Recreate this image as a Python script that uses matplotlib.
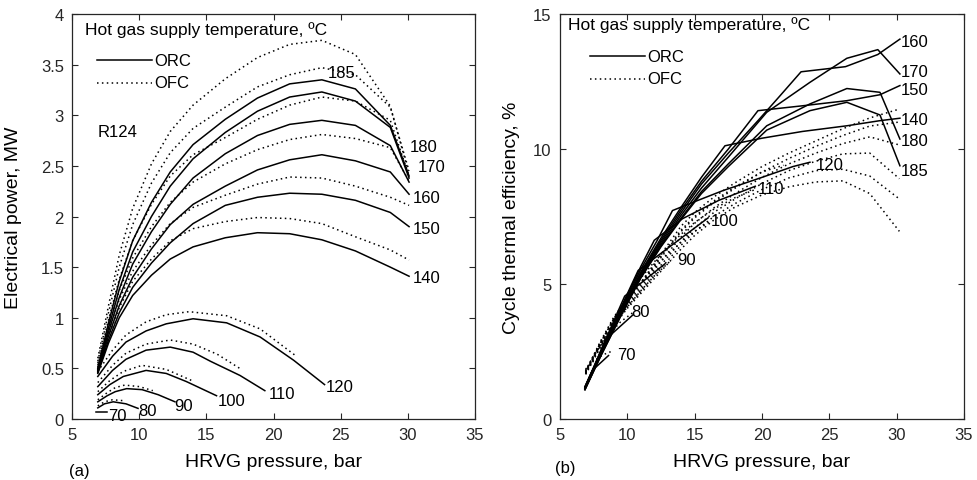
import matplotlib
matplotlib.use("Agg")
import matplotlib.pyplot as plt

plt.rcParams['font.family'] = ['Liberation Sans', 'DejaVu Sans']

# -------------------------------
# (a) Electrical power, MW
# -------------------------------
temps_hi = [185, 180, 170, 160, 150, 140]
p_hi = [6.9, 7.7, 8.5, 9.5, 10.9, 12.3, 14.0, 16.4, 18.8, 21.2, 23.6, 26.1, 28.7, 30.1]

pow_orc_hi = {
    185: [0.50, 0.95, 1.36, 1.76, 2.14, 2.44, 2.71, 2.96, 3.17, 3.31, 3.35, 3.26, 2.90, 2.40],
    180: [0.49, 0.90, 1.28, 1.65, 2.00, 2.30, 2.57, 2.83, 3.04, 3.18, 3.23, 3.14, 2.88, 2.38],
    170: [0.48, 0.86, 1.20, 1.53, 1.85, 2.12, 2.38, 2.62, 2.80, 2.91, 2.95, 2.90, 2.70, 2.34],
    160: [0.47, 0.82, 1.12, 1.40, 1.68, 1.92, 2.12, 2.30, 2.46, 2.56, 2.61, 2.55, 2.44, 2.22],
    150: [0.46, 0.78, 1.05, 1.30, 1.54, 1.74, 1.93, 2.11, 2.19, 2.23, 2.22, 2.16, 2.04, 1.90],
    140: [0.45, 0.75, 1.00, 1.22, 1.42, 1.58, 1.70, 1.79, 1.84, 1.83, 1.77, 1.66, 1.50, 1.41],
}
pow_ofc_hi = {
    185: [0.60, 1.12, 1.62, 2.08, 2.52, 2.84, 3.10, 3.36, 3.57, 3.70, 3.74, 3.60, 3.09, 2.42],
    180: [0.57, 1.05, 1.50, 1.92, 2.33, 2.63, 2.87, 3.08, 3.28, 3.40, 3.47, 3.40, 3.08, 2.45],
    170: [0.55, 0.98, 1.38, 1.76, 2.12, 2.40, 2.61, 2.78, 2.96, 3.10, 3.18, 3.14, 2.95, 2.40],
    160: [0.53, 0.92, 1.27, 1.59, 1.90, 2.14, 2.34, 2.52, 2.66, 2.76, 2.81, 2.77, 2.68, 2.35],
    150: [0.51, 0.87, 1.18, 1.46, 1.72, 1.93, 2.09, 2.21, 2.32, 2.39, 2.38, 2.30, 2.19, 2.11],
    140: [0.49, 0.82, 1.10, 1.36, 1.58, 1.76, 1.88, 1.95, 1.99, 1.98, 1.93, 1.80, 1.67, 1.57],
}

temps_lo = [120, 110, 100, 90, 80, 70]
p_orc_lo = {
    120: [6.9, 8.0, 9.0, 10.5, 12.0, 14.0, 16.5, 19.0, 21.5, 23.8],
    110: [6.9, 8.0, 9.0, 10.5, 12.3, 14.0, 15.3, 17.5, 19.35],
    100: [6.9, 7.8, 8.8, 10.5, 12.0, 13.5, 15.75],
    90: [6.9, 7.6, 8.2, 9.05, 10.2, 11.4, 12.65],
    80: [6.9, 7.4, 8.05, 9.0, 9.9],
    70: [6.8, 7.55],
}
pow_orc_lo = {
    120: [0.42, 0.62, 0.76, 0.87, 0.94, 0.99, 0.95, 0.81, 0.58, 0.34],
    110: [0.32, 0.48, 0.59, 0.68, 0.71, 0.66, 0.57, 0.43, 0.28],
    100: [0.24, 0.34, 0.42, 0.48, 0.45, 0.37, 0.23],
    90: [0.17, 0.23, 0.27, 0.30, 0.29, 0.24, 0.17],
    80: [0.11, 0.15, 0.17, 0.15, 0.105],
    70: [0.068, 0.068],
}
p_ofc_lo = {
    120: [6.9, 8.0, 9.0, 10.5, 12.0, 13.7, 16.5, 19.0, 21.6],
    110: [6.9, 8.0, 9.0, 10.5, 12.3, 14.0, 15.8, 17.6],
    100: [6.9, 7.8, 8.8, 10.2, 12.0, 13.9],
    90: [6.9, 7.6, 8.2, 8.9, 10.0, 11.0],
    80: [6.9, 7.4, 8.0, 8.9],
}
pow_ofc_lo = {
    120: [0.47, 0.68, 0.83, 0.96, 1.03, 1.06, 1.02, 0.89, 0.63],
    110: [0.36, 0.53, 0.65, 0.74, 0.78, 0.74, 0.64, 0.49],
    100: [0.27, 0.38, 0.47, 0.53, 0.49, 0.38],
    90: [0.19, 0.26, 0.31, 0.335, 0.32, 0.28],
    80: [0.13, 0.17, 0.19, 0.18],
}

# -------------------------------
# (b) Cycle thermal efficiency, %
# -------------------------------
p_eff_orc = {
    70: [6.85, 7.4, 8.6],
    80: [6.85, 7.6, 8.4, 10.4],
    90: [6.85, 8.0, 9.8, 12.8],
    100: [6.85, 8.0, 9.5, 10.8, 16.0],
    110: [6.85, 8.0, 9.5, 11.0, 12.0, 14.1, 16.8, 19.5],
    120: [6.85, 8.0, 9.5, 11.0, 12.2, 13.35, 15.0, 17.1, 20.0, 22.3, 23.56],
    140: [6.85, 8.0, 9.5, 11.0, 12.5, 14.0, 15.5, 17.25, 20.0, 23.0, 26.3, 28.76, 30.24],
    150: [6.85, 8.0, 9.5, 11.0, 12.5, 14.0, 15.5, 17.5, 19.7, 23.0, 26.3, 28.76, 30.24],
    160: [6.85, 8.0, 9.5, 11.0, 12.5, 14.0, 15.5, 17.5, 19.7, 21.3, 22.9, 26.2, 28.6, 30.24],
    170: [6.85, 8.0, 9.5, 11.0, 12.5, 14.0, 15.5, 17.5, 20.35, 23.56, 26.3, 28.6, 30.24],
    180: [6.85, 8.0, 9.5, 11.0, 12.5, 14.0, 15.5, 17.5, 20.35, 23.56, 26.3, 28.76, 30.24],
    185: [6.85, 8.0, 9.5, 11.0, 12.5, 14.0, 15.5, 17.5, 20.35, 23.56, 26.3, 28.76, 30.24],
}
eff_orc = {
    70: [1.20, 1.80, 2.35],
    80: [1.18, 2.00, 2.95, 3.85],
    90: [1.17, 2.50, 4.55, 5.75],
    100: [1.16, 2.47, 4.10, 5.50, 7.45],
    110: [1.15, 2.45, 4.05, 5.65, 6.62, 7.42, 8.10, 8.62],
    120: [1.14, 2.42, 4.00, 5.55, 6.60, 7.72, 8.05, 8.46, 8.95, 9.35, 9.51],
    140: [1.13, 2.40, 3.95, 5.45, 6.70, 7.85, 8.95, 10.12, 10.40, 10.65, 10.86, 11.05, 11.14],
    150: [1.12, 2.38, 3.92, 5.40, 6.62, 7.75, 8.80, 10.00, 11.42, 11.60, 11.79, 12.01, 12.35],
    160: [1.11, 2.36, 3.88, 5.35, 6.55, 7.65, 8.70, 9.85, 11.05, 11.95, 12.86, 13.05, 13.50, 14.07],
    170: [1.10, 2.34, 3.85, 5.30, 6.48, 7.55, 8.55, 9.70, 11.36, 12.47, 13.36, 13.68, 12.78],
    180: [1.09, 2.32, 3.82, 5.25, 6.42, 7.45, 8.42, 9.45, 10.86, 11.67, 12.24, 12.10, 10.37],
    185: [1.08, 2.30, 3.80, 5.22, 6.38, 7.40, 8.35, 9.35, 10.70, 11.42, 11.73, 11.26, 9.38],
}
p_eff_ofc = [6.9, 8, 9, 10, 11, 12, 13, 14, 15, 16.5, 18, 20, 22, 24, 26, 28, 30.2]
eff_ofc = {
    140: [1.75, 2.85, 3.75, 4.45, 5.05, 5.75, 6.45, 7.15, 7.65, 8.25, 8.75, 9.35, 9.85, 10.30, 10.75, 11.15, 11.48],
    150: [1.73, 2.81, 3.70, 4.38, 4.97, 5.65, 6.30, 6.95, 7.45, 8.05, 8.55, 9.15, 9.65, 10.10, 10.50, 10.85, 11.00],
    160: [1.71, 2.77, 3.63, 4.30, 4.88, 5.52, 6.15, 6.75, 7.25, 7.85, 8.35, 8.95, 9.45, 9.85, 10.20, 10.45, 10.15],
    170: [1.69, 2.73, 3.56, 4.22, 4.79, 5.40, 6.00, 6.58, 7.08, 7.68, 8.15, 8.72, 9.20, 9.55, 9.82, 9.85, 8.90],
    180: [1.67, 2.69, 3.50, 4.16, 4.72, 5.30, 5.87, 6.44, 6.94, 7.53, 7.98, 8.50, 8.93, 9.20, 9.25, 9.00, 8.15],
    185: [1.65, 2.65, 3.45, 4.10, 4.65, 5.20, 5.75, 6.30, 6.80, 7.40, 7.85, 8.30, 8.60, 8.78, 8.82, 8.35, 6.95],
}
p_eff_ofc_lo = {
    120: [6.9, 8, 9, 10, 11, 12, 13, 14, 15, 16.5, 18, 20, 21.6],
    110: [6.9, 8, 9, 10, 11, 12, 13, 14, 15, 16.5, 18, 19.5],
    100: [6.9, 8, 9, 10, 11, 12, 13, 14, 15, 16.1],
    90: [6.9, 8, 9, 10, 11, 12, 13.3],
    80: [6.9, 7.5, 8.5, 9.5, 10.7],
    70: [6.9, 7.5, 8.2, 8.9],
}
eff_ofc_lo = {
    120: [1.77, 2.87, 3.78, 4.47, 5.05, 5.70, 6.35, 7.00, 7.50, 8.10, 8.60, 9.15, 9.40],
    110: [1.68, 2.82, 3.72, 4.52, 5.22, 5.82, 6.35, 6.85, 7.28, 7.80, 8.20, 8.50],
    100: [1.72, 2.80, 3.65, 4.40, 5.05, 5.60, 6.10, 6.55, 6.95, 7.30],
    90: [1.76, 2.75, 3.50, 4.15, 4.75, 5.30, 5.90],
    80: [1.80, 2.35, 3.05, 3.60, 4.05],
    70: [1.85, 2.15, 2.38, 2.52],
}

# -------------------------------
# Figure
# -------------------------------
fig = plt.figure(figsize=(9.77, 4.81), dpi=100)
ax1 = fig.add_axes([0.074, 0.1268, 0.412, 0.842])
ax2 = fig.add_axes([0.5732, 0.1268, 0.4135, 0.842])

solid = dict(color='black', lw=1.1)
dotted = dict(color='black', lw=1.1, linestyle=(0, (1, 2.2)))
lbl = dict(fontsize=12, ha='center', va='center')

# (a)
for t in temps_hi:
    ax1.plot(p_hi, pow_ofc_hi[t], **dotted)
    ax1.plot(p_hi, pow_orc_hi[t], **solid)
for t in temps_lo:
    if t in pow_ofc_lo:
        ax1.plot(p_ofc_lo[t], pow_ofc_lo[t], **dotted)
    ax1.plot(p_orc_lo[t], pow_orc_lo[t], **solid)

pos_a = {185: (25.05, 3.42), 180: (31.2, 2.69), 170: (31.8, 2.49), 160: (31.4, 2.19),
         150: (31.4, 1.88), 140: (31.4, 1.40), 120: (24.9, 0.32), 110: (20.65, 0.25),
         100: (16.9, 0.18), 90: (13.3, 0.13), 80: (10.6, 0.08), 70: (8.35, 0.03)}
for t, (x, y) in pos_a.items():
    ax1.text(x, y, str(t), **lbl)

ax1.set_xlim(5, 35)
ax1.set_ylim(0, 4)
ax1.set_yticks([0, 0.5, 1, 1.5, 2, 2.5, 3, 3.5, 4])
ax1.set_yticklabels(['0', '0.5', '1', '1.5', '2', '2.5', '3', '3.5', '4'])
ax1.set_ylabel('Electrical power, MW', fontsize=14)
ax1.yaxis.set_label_coords(-0.125, 0.5)
ax1.text(0.032, 0.963, 'Hot gas supply temperature, \u00baC', transform=ax1.transAxes,
         fontsize=12.5, va='center')
ax1.plot([0.061, 0.197], [0.886, 0.886], transform=ax1.transAxes, **solid)
ax1.plot([0.061, 0.197], [0.830, 0.830], transform=ax1.transAxes, **dotted)
ax1.text(0.203, 0.886, 'ORC', transform=ax1.transAxes, fontsize=12, va='center')
ax1.text(0.203, 0.830, 'OFC', transform=ax1.transAxes, fontsize=12, va='center')
ax1.text(0.064, 0.709, 'R124', transform=ax1.transAxes, fontsize=12, va='center')

# (b)
for t in [140, 150, 160, 170, 180, 185]:
    ax2.plot(p_eff_ofc, eff_ofc[t], **dotted)
for t in [120, 110, 100, 90, 80, 70]:
    ax2.plot(p_eff_ofc_lo[t], eff_ofc_lo[t], **dotted)
for t in eff_orc:
    ax2.plot(p_eff_orc[t], eff_orc[t], **solid)

pos_b = {160: (31.35, 14.0), 170: (31.35, 12.86), 150: (31.35, 12.2), 140: (31.35, 11.1),
         180: (31.35, 10.3), 185: (31.35, 9.2), 120: (25.0, 9.44), 110: (20.7, 8.52),
         100: (17.25, 7.34), 90: (14.4, 5.9), 80: (11.0, 4.0), 70: (9.95, 2.4)}
for t, (x, y) in pos_b.items():
    ax2.text(x, y, str(t), **lbl)

ax2.set_xlim(5, 35)
ax2.set_ylim(0, 15)
ax2.set_yticks([0, 5, 10, 15])
ax2.set_ylabel('Cycle thermal efficiency, %', fontsize=14)
ax2.yaxis.set_label_coords(-0.1, 0.5)
ax2.text(0.020, 0.975, 'Hot gas supply temperature, \u00baC', transform=ax2.transAxes,
         fontsize=12.5, va='center')
ax2.plot([0.074, 0.210], [0.896, 0.896], transform=ax2.transAxes, **solid)
ax2.plot([0.074, 0.210], [0.840, 0.840], transform=ax2.transAxes, **dotted)
ax2.text(0.216, 0.896, 'ORC', transform=ax2.transAxes, fontsize=12, va='center')
ax2.text(0.216, 0.840, 'OFC', transform=ax2.transAxes, fontsize=12, va='center')

for ax in (ax1, ax2):
    ax.set_xticks([5, 10, 15, 20, 25, 30, 35])
    ax.set_xlabel('HRVG pressure, bar', fontsize=14)
    ax.xaxis.set_label_coords(0.5, -0.085)
    ax.tick_params(direction='in', top=True, right=True, length=4, width=0.8,
                   labelsize=12, colors='#262626', pad=6)
    for s in ax.spines.values():
        s.set_linewidth(0.9)
        s.set_color('#262626')

fig.text(0.081, 0.019, '(a)', fontsize=12, ha='center', va='center')
fig.text(0.579, 0.027, '(b)', fontsize=12, ha='center', va='center')

fig.savefig('out.png', dpi=100)
plt.close(fig)
